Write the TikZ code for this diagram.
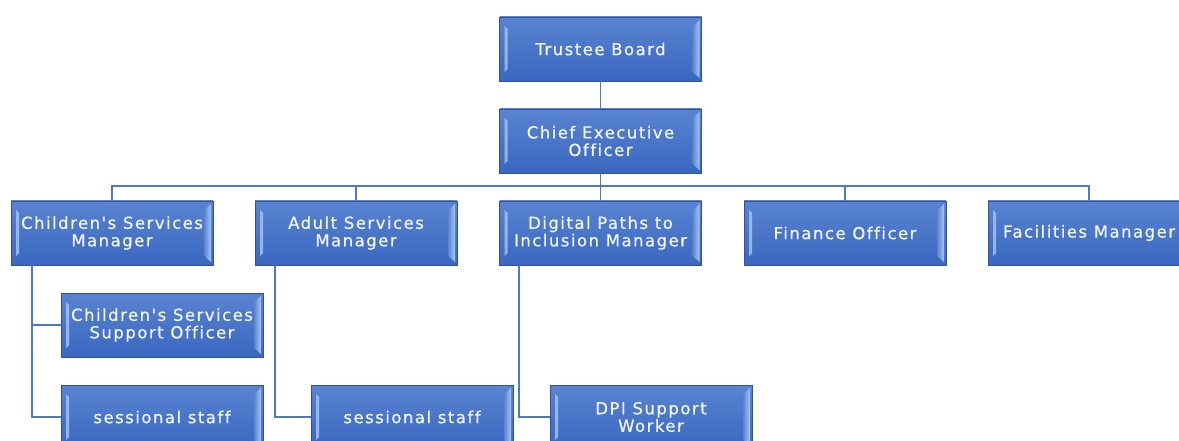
\documentclass[tikz,border=0pt]{standalone}
\usepackage{fontspec}
\setmainfont{DejaVu Sans}[LetterSpace=9, Ligatures={TeXOff,CommonOff}, FakeBold=0.6]
\definecolor{boxtop}{HTML}{5A84D2}
\definecolor{boxbot}{HTML}{3A67BF}
\definecolor{boxline}{HTML}{2E5595}
\definecolor{bevel}{HTML}{A9C6F0}
\definecolor{linkcol}{HTML}{4E78C4}
\definecolor{txt}{HTML}{F2F6FC}
\tikzset{
  orgbox/.style={
    rectangle, minimum width=202pt, minimum height=64pt, inner sep=0pt,
    top color=boxtop, bottom color=boxbot, draw=boxline, line width=0.8pt,
    text=txt, align=center, font=\fontsize{16.5}{17.5}\selectfont,
    path picture={
      % light inner bevel on the left edge
      \fill[bevel, opacity=0.8]
        ([xshift=5pt,yshift=-9pt]path picture bounding box.north west) --
        ([xshift=8pt,yshift=-12pt]path picture bounding box.north west) --
        ([xshift=8pt,yshift=12pt]path picture bounding box.south west) --
        ([xshift=5pt,yshift=9pt]path picture bounding box.south west) -- cycle;
      % light inner bevel on the right edge
      \shade[left color=boxtop, right color=bevel]
        ([xshift=-9pt,yshift=-9pt]path picture bounding box.north east) --
        ([xshift=-2pt,yshift=-3pt]path picture bounding box.north east) --
        ([xshift=-2pt,yshift=3pt]path picture bounding box.south east) --
        ([xshift=-9pt,yshift=9pt]path picture bounding box.south east) -- cycle;
    }},
  link/.style={draw=linkcol, line width=1.5pt}
}
\begin{document}
\begin{tikzpicture}[x=1pt,y=-1pt]
\useasboundingbox (0,0) rectangle (1179,441);
\clip (0,0) rectangle (1179,441);
\fill[white] (0,0) rectangle (1179,441);

% top of the chart
\node[orgbox] (tb)  at (600.5,49)  {Trustee Board};
\node[orgbox] (ceo) at (600.5,141) {Chief Executive\\Officer};

% managers
\node[orgbox] (csm) at (112,233)   {Children's Services\\Manager};
\node[orgbox] (asm) at (356,233)   {Adult Services\\Manager};
\node[orgbox] (dpm) at (600.5,233) {Digital Paths to\\Inclusion Manager};
\node[orgbox] (fo)  at (845,233)   {Finance Officer};
\node[orgbox] (fm)  at (1089,233)  {Facilities Manager};

% staff
\node[orgbox] (cso) at (162,325)   {Children's Services\\Support Officer};
\node[orgbox] (css) at (162,417)   {sessional staff};
\node[orgbox] (ass) at (412,417)   {sessional staff};
\node[orgbox] (dpi) at (651,417)   {DPI Support\\Worker};

\coordinate (bar) at (600.5,186);

% links
\draw[link] (tb.south) -- (ceo.north);
\draw[link] (ceo.south) -- (bar);
\draw[link] (csm.north) |- (bar) -| (fm.north);
\draw[link] (asm.north) -- (asm.north |- bar);
\draw[link] (dpm.north) -- (bar);
\draw[link] (fo.north) -- (fo.north |- bar);

\draw[link] ([xshift=-80pt]csm.south) |- (cso.west);
\draw[link] ([xshift=-80pt]csm.south) |- (css.west);
\draw[link] ([xshift=-81pt]asm.south) |- (ass.west);
\draw[link] ([xshift=-81.5pt]dpm.south) |- (dpi.west);
\end{tikzpicture}
\end{document}
